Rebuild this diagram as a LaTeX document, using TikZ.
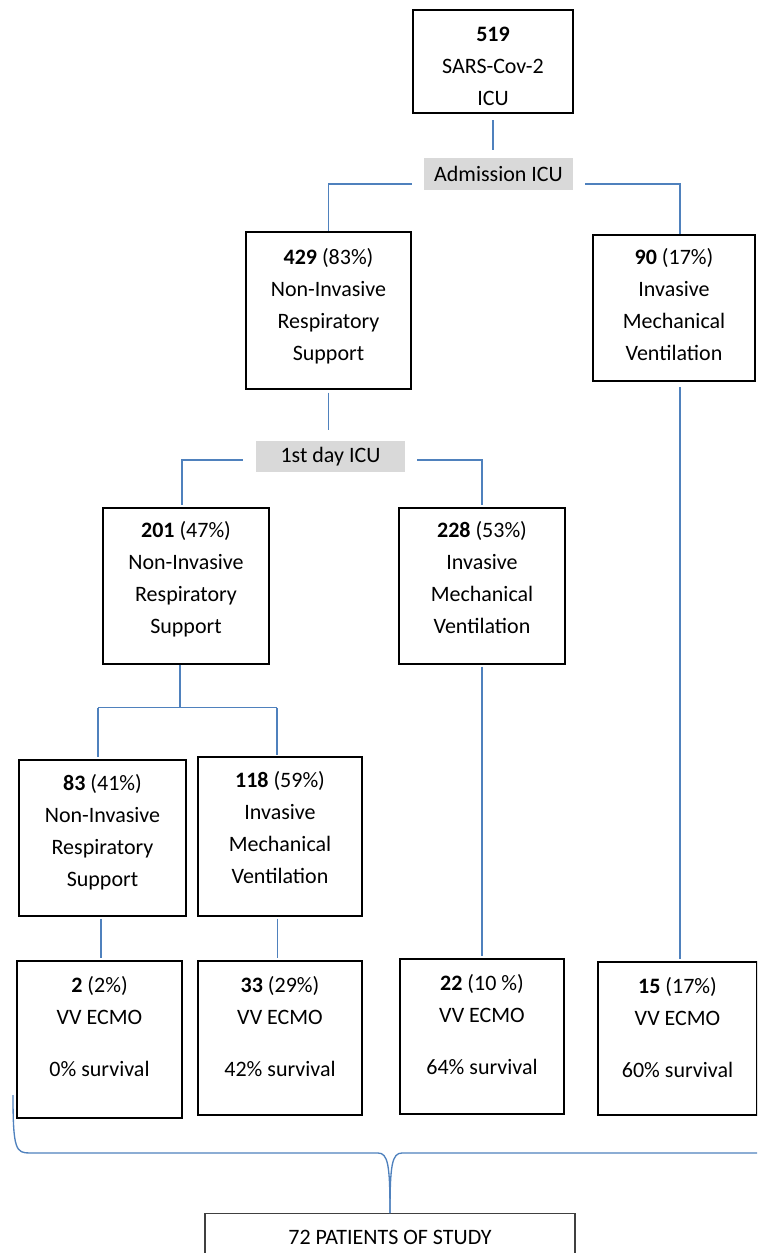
\documentclass[tikz,border=0pt]{standalone}
\usepackage{fontspec}
\setmainfont{Carlito}
\usetikzlibrary{calc}
\definecolor{lineblue}{RGB}{79,129,189}
\definecolor{labelgray}{RGB}{217,217,217}
\begin{document}
\begin{tikzpicture}[x=0.75pt,y=-0.75pt,
 box/.style={draw=black, line width=1.1pt, inner sep=0pt},
 txt/.style={align=center, inner sep=0pt, font={\fontsize{16.5}{24}\selectfont}},
 tag/.style={fill=labelgray, inner sep=0pt, font={\fontsize{16.5}{20}\selectfont}},
 conn/.style={draw=lineblue, line width=1.1pt}]
\useasboundingbox (0,0) rectangle (757,1253);
\clip (0,0) rectangle (757,1253);

% boxes
\node[box, minimum width=120pt, minimum height=77.25pt] (top) at (493,61.5) {};
\node[txt] (ttop) at ([yshift=-3.75pt]top.center) {\textbf{519}\\SARS-Cov-2\\ICU};
\node[tag, minimum width=111.75pt, minimum height=24pt] (adm) at (498.5,174) {Admission ICU};
\node[box, minimum width=123.75pt, minimum height=117.75pt] (n429) at (328.5,310.5) {};
\node[txt] (t429) at ([yshift=3.4pt]n429.center) {\textbf{429} (83\%)\\Non-Invasive\\Respiratory\\Support};
\node[box, minimum width=121.5pt, minimum height=109.5pt] (n90) at (674,308) {};
\node[txt] (t90) at ([yshift=2.25pt]n90.center) {\textbf{90} (17\%)\\Invasive\\Mechanical\\Ventilation};
\node[tag, minimum width=111.75pt, minimum height=23.25pt] (day1) at (330.5,456.5) {1st day ICU};
\node[box, minimum width=124.5pt, minimum height=117pt] (n201) at (186,586) {};
\node[txt] (t201) at ([yshift=4.9pt]n201.center) {\textbf{201} (47\%)\\Non-Invasive\\Respiratory\\Support};
\node[box, minimum width=124.5pt, minimum height=117pt] (n228) at (482,586) {};
\node[txt] (t228) at ([yshift=6pt]n228.center) {\textbf{228} (53\%)\\Invasive\\Mechanical\\Ventilation};
\node[box, minimum width=125.25pt, minimum height=117pt] (n83) at (102.5,838) {};
\node[txt] (t83) at ([yshift=4.5pt]n83.center) {\textbf{83} (41\%)\\Non-Invasive\\Respiratory\\Support};
\node[box, minimum width=123pt, minimum height=119.25pt] (n118) at (280,836.5) {};
\node[txt] (t118) at ([yshift=6.75pt]n118.center) {\textbf{118} (59\%)\\Invasive\\Mechanical\\Ventilation};

\node[box, minimum width=123.75pt, minimum height=117.75pt] (e2) at (99.5,1039.5) {};
\node[txt] (t2) at ([yshift=9.75pt]e2.center) {\textbf{2} (2\%)\\VV ECMO\\[15pt]0\% survival};
\node[box, minimum width=123pt, minimum height=115.5pt] (e33) at (280,1038) {};
\node[txt] (t33) at ([yshift=8.6pt]e33.center) {\textbf{33} (29\%)\\VV ECMO\\[15pt]42\% survival};
\node[box, minimum width=123pt, minimum height=116.25pt] (e22) at (482,1036.5) {};
\node[txt] (t22) at ([yshift=9pt]e22.center) {\textbf{22} (10 \%)\\VV ECMO\\[15pt]64\% survival};
\node[box, minimum width=119.25pt, minimum height=114.75pt] (e15) at (677.5,1038.5) {};
\node[txt] (t15) at ([yshift=7.9pt]e15.center) {\textbf{15} (17\%)\\VV ECMO\\[15pt]60\% survival};

\node[txt, draw=black!75, line width=0.8pt, minimum width=277.5pt, minimum height=36pt, anchor=north] (study) at (390,1213) {72 PATIENTS OF STUDY};

% connectors
\draw[conn] ([yshift=-5pt]top.south) -- ([yshift=6pt]top.south |- adm.north);
\draw[conn] ([xshift=-9pt,yshift=-7.5pt]adm.west) -| (n429.north);
\draw[conn] ([xshift=9pt,yshift=-7.5pt]adm.east) -| ([xshift=4.5pt]n90.north);
\draw[conn] ([yshift=-2.25pt]n429.south) -- ([yshift=8.25pt]n429.south |- day1.north);
\draw[conn] ([xshift=-9.75pt,yshift=-2.6pt]day1.west) -| ([xshift=-3pt,yshift=2pt]n201.north);
\draw[conn] ([xshift=9pt,yshift=-2.6pt]day1.east) -| ([yshift=2pt]n228.north);
\draw[conn] ([xshift=-4.5pt]n201.south) -- ++(0,43) coordinate (split);
\coordinate (dl) at ([xshift=-3.4pt]n83.north);
\coordinate (dr) at ([xshift=-2.25pt]n118.north);
\draw[conn] (split -| dl) -- (split -| dr);
\draw[conn] (split -| dl) -- ([yshift=2pt]dl);
\draw[conn] (split -| dr) -- ([yshift=1pt]dr);
\coordinate (s83) at ([xshift=-1pt,yshift=-1.5pt]n83.south);
\coordinate (s118) at ([xshift=-2pt,yshift=-1.5pt]n118.south);
\coordinate (s90) at ([xshift=4.5pt,yshift=-4pt]n90.south);
\draw[conn] (s83) -- ([yshift=2pt]e2.north -| s83);
\draw[conn] (s118) -- ([yshift=2pt]e33.north -| s118);
\draw[conn] ([yshift=-1.5pt]n228.south) -- ([yshift=1.5pt]e22.north);
\draw[conn] (s90) -- ([yshift=1.5pt]e15.north -| s90);

% brace
\coordinate (bl) at (13,1095);
\coordinate (br) at (757,1153);
\draw[draw=lineblue, line width=1pt] (bl) .. controls (13,1150) and (16,1153) .. (30,1153) -- (378,1153) .. controls (388,1153) and (390,1165) .. (study.north);
\draw[draw=lineblue, line width=1pt] (br) -- (402,1153) .. controls (392,1153) and (390,1165) .. (study.north);
\end{tikzpicture}
\end{document}
